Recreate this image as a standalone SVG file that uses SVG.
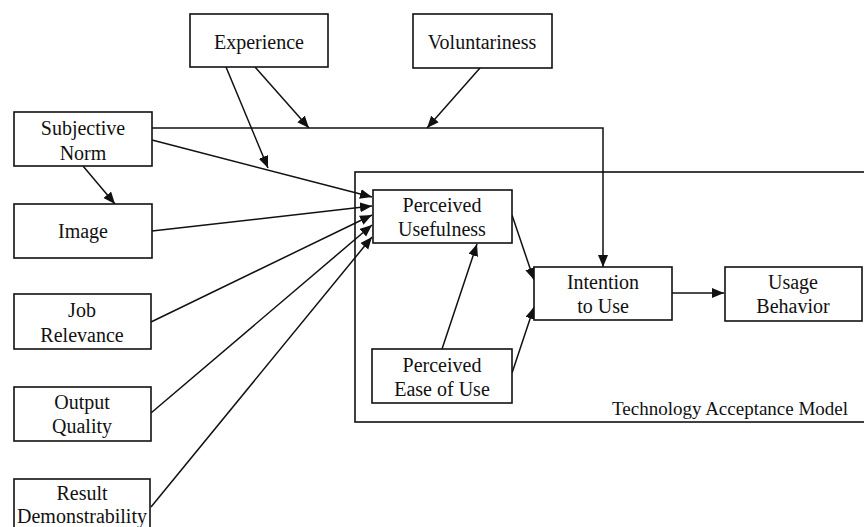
<svg xmlns="http://www.w3.org/2000/svg" width="864" height="527" viewBox="0 0 864 527">
<style>
.box{fill:#fff;stroke:#111;stroke-width:1.6}
.frame{fill:none;stroke:#111;stroke-width:1.6}
.t{font-family:"Liberation Serif","Times New Roman",serif;font-size:20px;fill:#111;text-anchor:middle}
.tl{font-family:"Liberation Serif","Times New Roman",serif;font-size:19px;fill:#111}
.c{fill:none;stroke:#111;stroke-width:1.5}
</style>
<defs>
<marker id="ah" markerUnits="userSpaceOnUse" markerWidth="14" markerHeight="12" refX="12" refY="5" orient="auto">
<path d="M0,0 L12,5 L0,10 Z" fill="#111"/>
</marker>
</defs>
<rect width="864" height="527" fill="#fff"/>
<g id="tam-frame">
<rect class="frame" x="355" y="172" width="540" height="250"/>
<text class="tl" x="612" y="415">Technology Acceptance Model</text>
</g>
<g id="connectors">
<path class="c" d="M152,128 L603,128 L603,267" marker-end="url(#ah)"/>
<line class="c" x1="226" y1="67" x2="268" y2="168" marker-end="url(#ah)"/>
<line class="c" x1="255" y1="67" x2="309" y2="128" marker-end="url(#ah)"/>
<line class="c" x1="480" y1="68" x2="427" y2="128" marker-end="url(#ah)"/>
<line class="c" x1="152" y1="140" x2="372" y2="197" marker-end="url(#ah)"/>
<line class="c" x1="83" y1="166" x2="115" y2="204" marker-end="url(#ah)"/>
<line class="c" x1="152" y1="231" x2="372" y2="206" marker-end="url(#ah)"/>
<line class="c" x1="151" y1="322" x2="372" y2="215" marker-end="url(#ah)"/>
<line class="c" x1="151" y1="413" x2="372" y2="225" marker-end="url(#ah)"/>
<line class="c" x1="151" y1="507" x2="372" y2="237" marker-end="url(#ah)"/>
<line class="c" x1="512" y1="215" x2="534" y2="280" marker-end="url(#ah)"/>
<line class="c" x1="512" y1="373" x2="534" y2="307" marker-end="url(#ah)"/>
<line class="c" x1="442" y1="349" x2="477" y2="244" marker-end="url(#ah)"/>
<line class="c" x1="672" y1="293" x2="724" y2="293" marker-end="url(#ah)"/>
</g>
<g id="experience">
<rect class="box" x="190" y="14" width="138" height="53"/>
<text class="t" x="259" y="49">Experience</text>
</g>
<g id="voluntariness">
<rect class="box" x="413" y="14" width="139" height="54"/>
<text class="t" x="482" y="49">Voluntariness</text>
</g>
<g id="subjective-norm">
<rect class="box" x="14" y="112" width="138" height="54"/>
<text class="t" x="83" y="135">Subjective</text>
<text class="t" x="83" y="160">Norm</text>
</g>
<g id="image">
<rect class="box" x="14" y="204" width="138" height="54"/>
<text class="t" x="83" y="238">Image</text>
</g>
<g id="job-relevance">
<rect class="box" x="14" y="294" width="137" height="55"/>
<text class="t" x="82" y="317">Job</text>
<text class="t" x="82" y="342">Relevance</text>
</g>
<g id="output-quality">
<rect class="box" x="14" y="387" width="137" height="54"/>
<text class="t" x="82" y="409">Output</text>
<text class="t" x="82" y="433">Quality</text>
</g>
<g id="result-demonstrability">
<rect class="box" x="14" y="479" width="136" height="54"/>
<text class="t" x="82" y="500">Result</text>
<text class="t" x="82" y="523">Demonstrability</text>
</g>
<g id="perceived-usefulness">
<rect class="box" x="373" y="190" width="139" height="53"/>
<text class="t" x="442" y="212">Perceived</text>
<text class="t" x="442" y="236">Usefulness</text>
</g>
<g id="perceived-ease-of-use">
<rect class="box" x="372" y="349" width="140" height="54"/>
<text class="t" x="442" y="372">Perceived</text>
<text class="t" x="442" y="396">Ease of Use</text>
</g>
<g id="intention-to-use">
<rect class="box" x="534" y="267" width="138" height="53"/>
<text class="t" x="603" y="289">Intention</text>
<text class="t" x="603" y="313">to Use</text>
</g>
<g id="usage-behavior">
<rect class="box" x="725" y="267" width="137" height="54"/>
<text class="t" x="793" y="289">Usage</text>
<text class="t" x="793" y="313">Behavior</text>
</g>
</svg>
